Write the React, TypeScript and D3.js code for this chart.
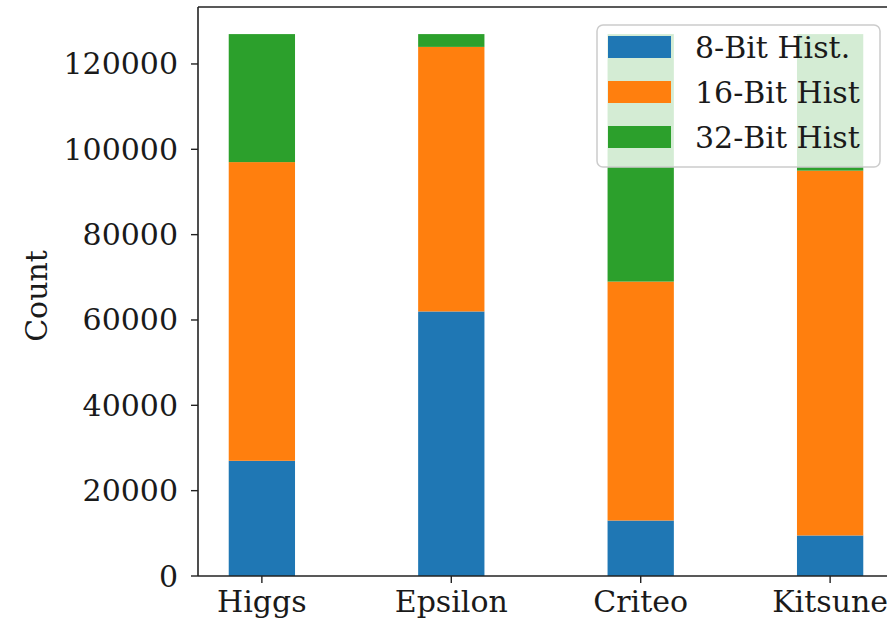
import React from "react";
import * as d3 from "d3";

const categories = ["Higgs", "Epsilon", "Criteo", "Kitsune"];
const seriesNames = ["8-Bit Hist.", "16-Bit Hist", "32-Bit Hist"];
const bit8 = [27000, 62000, 13000, 9500];
const bit16 = [70000, 62000, 56000, 85500];
const bit32 = [30000, 3000, 58000, 32000];
const yTicks = [0, 20000, 40000, 60000, 80000, 100000, 120000];
const colors = ["#1f77b4", "#ff7f0e", "#2ca02c"];

const W = 887;
const H = 621;
const FONT = "'DejaVu Serif', serif";
const FS = 30;

export default function App() {
  const left = 198, right = 895, top = 7, bottom = 576;
  const x = d3.scaleLinear().domain([-0.3425, 3.3425]).range([left - 1, right]);
  const y = d3.scaleLinear().domain([0, 133350]).range([bottom, top]);
  const barW = 0.35;

  const table = categories.map((c, i) => ({ cat: c, s0: bit8[i], s1: bit16[i], s2: bit32[i] }));
  const stack = d3.stack<any>().keys(["s0", "s1", "s2"])(table);

  return (
    <svg width={W} height={H} style={{ position: "absolute", left: 0, top: 0, background: "#fff" }}>
      <rect x={0} y={0} width={W} height={H} fill="#fff" />
      {stack.map((layer, si) =>
        layer.map((d, i) => (
          <rect
            key={`${si}-${i}`}
            x={x(i - barW / 2)}
            width={x(barW) - x(0)}
            y={y(d[1])}
            height={y(d[0]) - y(d[1])}
            fill={colors[si]}
          />
        ))
      )}
      {/* spines */}
      <line x1={left} x2={left} y1={top} y2={bottom} stroke="#222" strokeWidth={1.6} />
      <line x1={left} x2={W} y1={top} y2={top} stroke="#222" strokeWidth={1.6} />
      <line x1={left} x2={W} y1={bottom} y2={bottom} stroke="#222" strokeWidth={1.6} />
      {/* y ticks */}
      {yTicks.map((t) => (
        <g key={t}>
          <line x1={left - 7} x2={left} y1={y(t)} y2={y(t)} stroke="#222" strokeWidth={1.4} />
          <text
            x={left - 20}
            y={y(t)}
            textAnchor="end"
            dominantBaseline="central"
            fontFamily={FONT}
            fontSize={FS}
            fill="#1a1a1a"
          >
            {t}
          </text>
        </g>
      ))}
      {/* x ticks */}
      {categories.map((c, i) => (
        <g key={c}>
          <line x1={x(i)} x2={x(i)} y1={bottom} y2={bottom + 7} stroke="#222" strokeWidth={1.4} />
          <text x={x(i)} y={612} textAnchor="middle" fontFamily={FONT} fontSize={FS} fill="#1a1a1a">
            {c}
          </text>
        </g>
      ))}
      <text
        transform={`translate(47,296) rotate(-90)`}
        textAnchor="middle"
        fontFamily={FONT}
        fontSize={FS}
        fill="#1a1a1a"
      >
        Count
      </text>
      {/* legend */}
      <rect x={597} y={25} width={283} height={142} rx={6} fill="#fff" fillOpacity={0.8} stroke="#ccc" strokeWidth={1.5} />
      {seriesNames.map((n, i) => (
        <g key={n}>
          <rect x={608} y={36 + i * 45} width={63} height={22} fill={colors[i]} />
          <text x={695} y={58 + i * 45} fontFamily={FONT} fontSize={FS} fill="#1a1a1a">
            {n}
          </text>
        </g>
      ))}
    </svg>
  );
}
